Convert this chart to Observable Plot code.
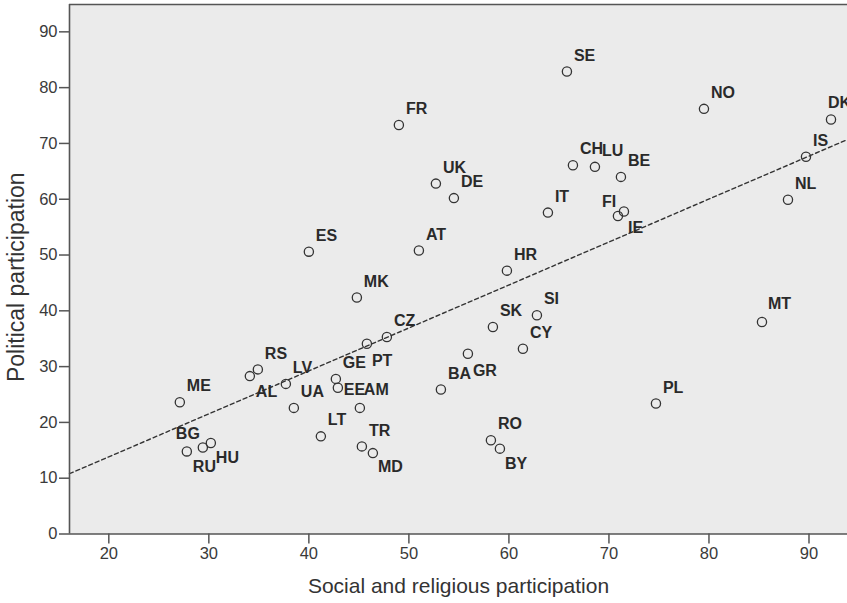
<!DOCTYPE html>
<html>
<head>
<meta charset="utf-8">
<script src="https://cdn.jsdelivr.net/npm/d3@7"></script>
<script src="https://cdn.jsdelivr.net/npm/@observablehq/plot@0.6"></script>
<style>
  html, body { margin: 0; padding: 0; background: #ffffff; }
  #chart svg { display: block; }
</style>
</head>
<body>
<div id="chart"></div>
<script>
// Country codes
const codes = ["SE","NO","DK","FR","IS","CH","LU","BE","UK","DE","NL","IT","FI","IE","ES",
  "AT","HR","MK","SI","MT","SK","CZ","PT","CY","GR","RS","GE","AL","LV","EE",
  "BA","ME","AM","UA","PL","LT","RO","BY","TR","MD","BG","RU","HU"];
// Social and religious participation (x)
const social = [65.8,79.5,92.2,49.0,89.7,66.4,68.6,71.2,52.7,54.5,87.9,63.9,71.5,70.9,40.0,
  51.0,59.8,44.8,62.8,85.3,58.4,47.8,45.8,61.4,55.9,34.9,42.7,34.1,37.7,42.9,
  53.2,27.1,45.1,38.5,74.7,41.2,58.2,59.1,45.3,46.4,27.8,29.4,30.2];
// Political participation (y)
const political = [82.9,76.2,74.3,73.3,67.6,66.1,65.8,64.0,62.8,60.2,59.9,57.6,57.8,57.0,50.6,
  50.8,47.2,42.4,39.2,38.0,37.1,35.3,34.1,33.2,32.3,29.5,27.8,28.3,26.9,26.2,
  25.9,23.6,22.6,22.6,23.4,17.5,16.8,15.3,15.7,14.5,14.8,15.5,16.3];
// Axis ticks
const xTicks = [20,30,40,50,60,70,80,90];
const yTicks = [0,10,20,30,40,50,60,70,80,90];
// Fit line
const fitIntercept = -1.57;
const fitSlope = 0.770;

// Layout (not data)
const xDomain = [16.07, 93.85];
const yDomain = [0, 94.9];
const defaultOffset = [7, -16];
const labelOffsets = {
  DK: [-3, -17], FI: [-22, -10], IE: [10, 12], PT: [5, 17], EE: [6, 2],
  AM: [4, -18], AL: [6, 16], MD: [5, 14], BG: [-11, -18], RU: [-10, 19],
  HU: [5, 15], GR: [5, 17], BY: [5, 15], MT: [6, -18]
};

const rows = codes.map((c, i) => ({code: c, x: social[i], y: political[i]}));
const fitRows = xDomain.map(x => ({x, y: fitIntercept + fitSlope * x}));

const font = "'Liberation Sans', Arial, Helvetica, sans-serif";

const labelMarks = rows.map(r => {
  const [dx, dy] = labelOffsets[r.code] || defaultOffset;
  return Plot.text([r], {
    x: "x", y: "y", text: "code", dx, dy,
    textAnchor: "start", lineAnchor: "middle",
    fontWeight: "bold", fontSize: 16, fill: "#2a2a2a"
  });
});

const chart = Plot.plot({
  width: 847,
  height: 603,
  marginLeft: 69,
  marginRight: 0,
  marginTop: 4,
  marginBottom: 69.5,
  style: {fontFamily: font, fontSize: "16px", background: "#ffffff", color: "#333"},
  x: {domain: xDomain},
  y: {domain: yDomain},
  marks: [
    Plot.frame({fill: "#ebebeb", stroke: null}),
    Plot.line(fitRows, {x: "x", y: "y", stroke: "#333", strokeWidth: 1.4, strokeDasharray: "4,3"}),
    Plot.dot(rows, {x: "x", y: "y", r: 4.6, stroke: "#333", strokeWidth: 1.3, fill: "none"}),
    ...labelMarks,
    Plot.ruleX([xDomain[0]], {stroke: "#555", strokeWidth: 1.6}),
    Plot.ruleY([yDomain[0]], {stroke: "#555", strokeWidth: 1.6}),
    Plot.ruleY([yDomain[1]], {stroke: "#555", strokeWidth: 1.6}),
    Plot.axisX({ticks: xTicks, tickSize: 10, tickPadding: 3, fontSize: 16.5, color: "#3a3a3a", stroke: "#555", strokeWidth: 1.5, label: null}),
    Plot.axisY({ticks: yTicks, tickSize: 10, tickPadding: 2, fontSize: 16.5, color: "#3a3a3a", stroke: "#555", strokeWidth: 1.5, label: null}),
    Plot.text(["Social and religious participation"], {frameAnchor: "bottom", dy: 52, text: d => d, fontSize: 21, fill: "#333", lineAnchor: "middle", textAnchor: "middle"}),
    Plot.text(["Political participation"], {frameAnchor: "left", dx: -53, dy: 8, rotate: -90, text: d => d, fontSize: 23, fill: "#333", lineAnchor: "middle", textAnchor: "middle"})
  ]
});

document.getElementById("chart").appendChild(chart);
</script>
</body>
</html>
